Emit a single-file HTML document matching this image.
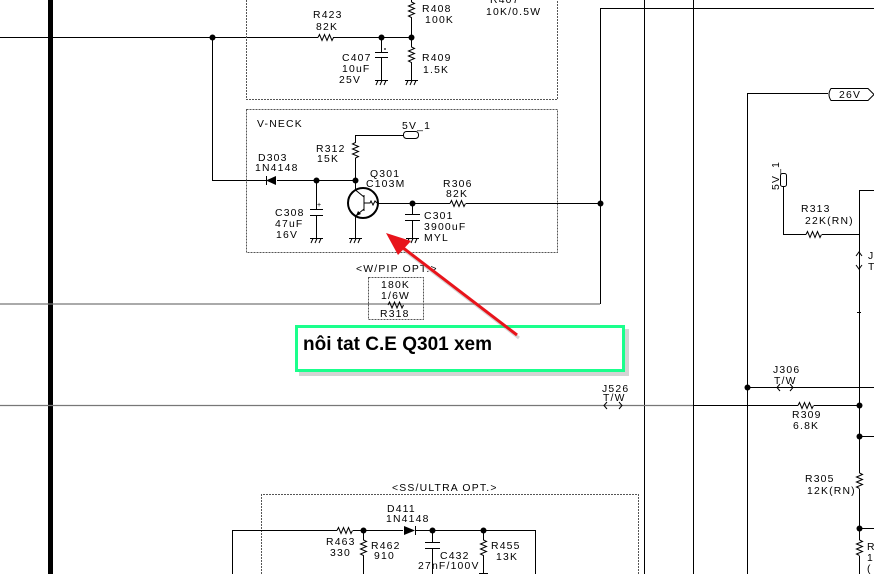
<!DOCTYPE html>
<html><head><meta charset="utf-8"><style>
html,body{margin:0;padding:0;background:#fff;}
svg{display:block;}
.t{font-family:"Liberation Sans",sans-serif;font-size:10.4px;letter-spacing:1.2px;fill:#000;}
.l{stroke:#000;stroke-width:1;fill:none;}
.g{stroke:#777;stroke-width:1.3;fill:none;}
.d{stroke:#555;stroke-width:1;fill:none;stroke-dasharray:2,1;}
</style></head><body>
<svg width="874" height="574" viewBox="0 0 874 574" xmlns="http://www.w3.org/2000/svg">
<rect width="874" height="574" fill="#fff"/>
<rect x="48" y="0" width="5" height="574" fill="#000"/>

<path class="l" d="M0,37.5 H318 M333,37.5 H411"/>
<path class="l" d="M318,37.5 l1.5,-3 l2.5,6 l2.5,-6 l2.5,6 l2.5,-6 l2.5,6 l1.5,-3"/>
<path class="l" d="M212.5,37 V180.5 H266 M277,180.5 H355"/>
<path class="l" d="M411.5,0 V2 l3,1.5 l-6,2.5 l6,2.5 l-6,2.5 l6,2.5 l-6,2.5 l3,1.5 V37"/>
<path class="l" d="M411.5,37 V47 l3,1.5 l-6,2.5 l6,2.5 l-6,2.5 l6,2.5 l-6,2.5 l3,1.5 V80"/>
<path class="l" d="M381.5,37 V52 M375,52.5 H388 M375,57.5 H388 M381.5,58 V80"/>
<circle cx="385" cy="49" r="0.9" fill="#000"/>
<path class="l" d="M375,80.5 H388 M376,85 l2,-4.5 M380,85 l2,-4.5 M384,85 l2,-4.5"/>
<path class="l" d="M405,80.5 H418 M406,85 l2,-4.5 M410,85 l2,-4.5 M414,85 l2,-4.5"/>
<path class="d" d="M246.5,0 V99.5 H557.5 V0"/>
<rect class="d" x="246.5" y="109.5" width="311" height="143"/>

<path d="M266,180.5 L276,176 V185 Z" fill="#000"/>
<path class="l" d="M266.5,176 V185"/>
<path class="l" d="M355.5,180 V158 l3,-1.5 l-6,-2.5 l6,-2.5 l-6,-2.5 l6,-2.5 l-6,-2.5 l3,-1.5 V135.5 H403"/>
<rect class="l" x="403.5" y="131.5" width="15" height="7" rx="3"/>
<path class="l" d="M316.5,180 V209 M310,209.5 H323 M310,215.5 H323 M316.5,216 V238"/>
<text class="t" x="317" y="207" style="font-size:7px">+</text>
<path class="l" d="M310,238.5 H323 M311,243 l2,-4.5 M315,243 l2,-4.5 M319,243 l2,-4.5"/>
<circle cx="363" cy="203" r="15" fill="#fff" stroke="#000" stroke-width="2"/>
<path class="l" d="M355.5,180 V190 L364,197 M364,209 L355.5,216 V238 M364,195 V211 M364,203 H370 l1,-2 l2,4 l2,-4 l2,2"/>
<path d="M356,216 l2,-5 l3,3 Z" fill="#000"/>
<path class="l" d="M349,238.5 H362 M350,243 l2,-4.5 M354,243 l2,-4.5 M358,243 l2,-4.5"/>
<path class="l" d="M378,203.5 H450 M466,203.5 H600"/>
<path class="l" d="M450,203.5 l1.5,-3 l2.5,6 l2.5,-6 l2.5,6 l2.5,-6 l2.5,6 l1.5,-3"/>
<path class="l" d="M412.5,203 V214 M405,214.5 H420 M405,220.5 H420 M412.5,221 V238"/>
<path class="l" d="M406,238.5 H419 M407,243 l2,-4.5 M411,243 l2,-4.5 M415,243 l2,-4.5"/>

<path class="l" d="M600.5,304 V8.5 H874"/>
<path class="g" d="M0,304 H600"/>

<rect class="d" x="368.5" y="277.5" width="55" height="42"/>
<path class="l" d="M388,305 l1.5,-3 l2.5,6 l2.5,-6 l2.5,6 l2.5,-6 l2.5,6 l1.5,-3"/>

<path class="l" d="M644.5,0 V574 M693.5,0 V574"/>
<path class="l" d="M747.5,574 V93.5 H828"/>
<path class="l" d="M831,88.5 H868 L874,94.5 L868,100.5 H831 Q827,94.5 831,88.5 Z"/>
<rect class="l" x="780.5" y="173.5" width="6" height="13" rx="2"/>
<path class="l" d="M783.5,187 V234.5 H806 M822,234.5 H860"/>
<path class="l" d="M806,234.5 l1.5,-3 l2.5,6 l2.5,-6 l2.5,6 l2.5,-6 l2.5,6 l1.5,-3"/>
<path class="l" d="M859.5,574 V190.5 H874"/>
<path class="l" d="M856,256 l3,-4 l3,4 M856,265 l3,4 l3,-4 M857,312.5 H861"/>
<path class="l" d="M747,387.5 H874"/>
<path class="l" d="M780,384 l-3,3.5 l3,3.5 M790,384 l3,3.5 l-3,3.5"/>
<path class="g" d="M0,405.5 H693"/>
<path class="l" d="M693,405.5 H798 M814,405.5 H859"/>
<path class="l" d="M798,405.5 l1.5,-3 l2.5,6 l2.5,-6 l2.5,6 l2.5,-6 l2.5,6 l1.5,-3"/>
<path class="l" d="M607,402 l-3,3.5 l3,3.5 M619,402 l3,3.5 l-3,3.5"/>
<path class="l" d="M859,436.5 H874 M859,528.5 H874"/>
<path d="M856,473 h7 v16 h-7 z" fill="#fff"/>
<path class="l" d="M859.5,473 l3,1.5 l-6,2.5 l6,2.5 l-6,2.5 l6,2.5 l-6,2.5 l3,1.5"/>
<path d="M856,540 h7 v16 h-7 z" fill="#fff"/>
<path class="l" d="M859.5,540 l3,1.5 l-6,2.5 l6,2.5 l-6,2.5 l6,2.5 l-6,2.5 l3,1.5"/>

<path class="d" d="M261.5,574 V494.5 H638.5 V574"/>
<path class="l" d="M232.5,574 V530.5 H337 M353,530.5 H403 M415,530.5 H535.5 V574"/>
<path class="l" d="M337,530.5 l1.5,-3 l2.5,6 l2.5,-6 l2.5,6 l2.5,-6 l2.5,6 l1.5,-3"/>
<path d="M415,530.5 L404,526 V535 Z" fill="#000"/>
<path class="l" d="M415.5,526 V535"/>
<path class="l" d="M363.5,530 V540 l3,1.5 l-6,2.5 l6,2.5 l-6,2.5 l6,2.5 l-6,2.5 l3,1.5 V574"/>
<path class="l" d="M432.5,530 V542 M425,542.5 H440 M425,548.5 H440 M432.5,549 V574"/>
<path class="l" d="M483.5,530 V540 l3,1.5 l-6,2.5 l6,2.5 l-6,2.5 l6,2.5 l-6,2.5 l3,1.5 V573 M479,573.5 H488"/>

<g fill="#000">
<circle cx="212.5" cy="37.5" r="3"/>
<circle cx="381.5" cy="37.5" r="3"/>
<circle cx="411.5" cy="37.5" r="3"/>
<circle cx="316.5" cy="180.5" r="3"/>
<circle cx="355.5" cy="180.5" r="3"/>
<circle cx="412.5" cy="203.5" r="3"/>
<circle cx="600.5" cy="203.5" r="3"/>
<circle cx="747.5" cy="387.5" r="3"/>
<circle cx="859.5" cy="405.5" r="3"/>
<circle cx="859.5" cy="436.5" r="3"/>
<circle cx="859.5" cy="528.5" r="3"/>
<circle cx="363.5" cy="530.5" r="3"/>
<circle cx="432.5" cy="530.5" r="3"/>
<circle cx="483.5" cy="530.5" r="3"/>
</g>

<text class="t" x="490" y="3">R407</text>
<text class="t" x="313" y="18">R423</text>
<text class="t" x="316" y="30">82K</text>
<text class="t" x="422" y="12">R408</text>
<text class="t" x="425" y="23">100K</text>
<text class="t" x="486" y="15">10K/0.5W</text>
<text class="t" x="342" y="61">C407</text>
<text class="t" x="342" y="72">10uF</text>
<text class="t" x="339" y="83">25V</text>
<text class="t" x="422" y="61">R409</text>
<text class="t" x="423" y="73">1.5K</text>
<text class="t" x="257" y="127">V-NECK</text>
<text class="t" x="402" y="129">5V_1</text>
<text class="t" x="316" y="152">R312</text>
<text class="t" x="317" y="162">15K</text>
<text class="t" x="258" y="161">D303</text>
<text class="t" x="255" y="171">1N4148</text>
<text class="t" x="370" y="177">Q301</text>
<text class="t" x="366" y="187">C103M</text>
<text class="t" x="443" y="187">R306</text>
<text class="t" x="446" y="197">82K</text>
<text class="t" x="275" y="216">C308</text>
<text class="t" x="275" y="227">47uF</text>
<text class="t" x="276" y="238">16V</text>
<text class="t" x="424" y="219">C301</text>
<text class="t" x="424" y="230">3900uF</text>
<text class="t" x="424" y="241">MYL</text>
<text class="t" x="356" y="272">&lt;W/PIP OPT.&gt;</text>
<text class="t" x="381" y="288">180K</text>
<text class="t" x="381" y="299">1/6W</text>
<text class="t" x="380" y="317">R318</text>
<text class="t" x="602" y="392">J526</text>
<text class="t" x="603" y="401">T/W</text>
<text class="t" x="773" y="373">J306</text>
<text class="t" x="774" y="384">T/W</text>
<text class="t" x="792" y="418">R309</text>
<text class="t" x="793" y="429">6.8K</text>
<text class="t" x="805" y="482">R305</text>
<text class="t" x="807" y="494">12K(RN)</text>
<text class="t" x="801" y="212">R313</text>
<text class="t" x="805" y="224">22K(RN)</text>
<text class="t" x="839" y="98">26V</text>
<text class="t" transform="translate(779,190) rotate(-90)">5V_1</text>
<text class="t" x="868" y="259">J</text>
<text class="t" x="868" y="270">T</text>
<text class="t" x="867" y="550">R</text>
<text class="t" x="867" y="561">1</text>
<text class="t" x="867" y="572">(</text>
<text class="t" x="392" y="491">&lt;SS/ULTRA OPT.&gt;</text>
<text class="t" x="387" y="512">D411</text>
<text class="t" x="386" y="522">1N4148</text>
<text class="t" x="326" y="545">R463</text>
<text class="t" x="330" y="556">330</text>
<text class="t" x="371" y="549">R462</text>
<text class="t" x="374" y="559">910</text>
<text class="t" x="440" y="559">C432</text>
<text class="t" x="418" y="569">27nF/100V</text>
<text class="t" x="491" y="549">R455</text>
<text class="t" x="496" y="560">13K</text>

<rect x="299" y="329" width="330" height="47" fill="#aaa" opacity="0.5"/>
<rect x="296.5" y="326.5" width="327" height="44" fill="#fff" stroke="#1aff8c" stroke-width="3"/>
<text x="303" y="350" style="font-family:'Liberation Sans',sans-serif;font-size:19px;font-weight:bold;fill:#000">nôi tat C.E Q301 xem</text>

<g opacity="0.35" transform="translate(2,3)">
<path d="M517,335 L398,244" stroke="#888" stroke-width="3"/>
</g>
<path d="M517,335 L398,244" stroke="#e8141b" stroke-width="3" fill="none"/>
<path d="M386,233 L411,241 L398,255 Z" fill="#e8141b"/>
</svg>
</body></html>
